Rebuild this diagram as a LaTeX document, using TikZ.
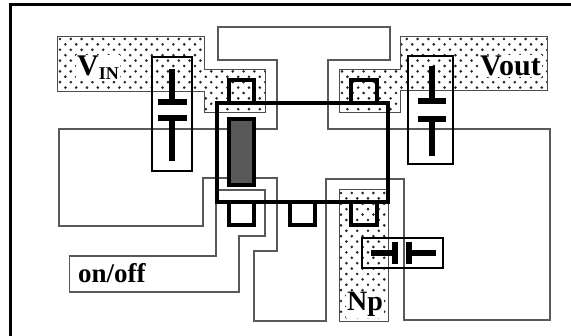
\documentclass[tikz,border=0pt]{standalone}
\usepackage{fontspec}
\setmainfont{Liberation Serif}
\usepackage{tikz}

\newcommand{\dotfield}[4]{%
    \foreach \row in {0,...,#4} {
        \pgfmathsetmacro{\shift}{mod(\row,2)*5.4}
        \foreach \col in {0,...,#3} {
            \fill[black!85] ({#1+\shift+\col*10.8}, {#2+\row*5.4}) circle (1.45);
        }
    }
}

\begin{document}
\begin{tikzpicture}[
    x=1pt, y=-1pt,
    frame/.style={draw=black, line width=3pt},
    track/.style={draw=black!65, line width=1.1pt},
    implant/.style={draw=black!70, line width=1pt},
    active/.style={draw=black, line width=4pt},
    contact/.style={draw=black, line width=3.4pt},
    capbox/.style={draw=black, line width=2.8pt},
    plate/.style={draw=black, line width=5.4pt},
    label/.style={inner sep=1pt, fill=white}
]
\useasboundingbox (0,0) rectangle (571,336);

% outer frame, top and left only
\draw[frame] (10,336) -- (10,5) -- (571,5);

% dotted regions
\begin{scope}
\clip (57,37) -- (204,37) -- (204,70) -- (265,70) -- (265,113) -- (204,113) -- (204,92) -- (57,92) -- cycle;
\dotfield{60}{39}{20}{14}
\end{scope}
\begin{scope}
\clip (400,37) -- (547,37) -- (547,91) -- (400,91) -- (400,113) -- (339,113) -- (339,70) -- (400,70) -- cycle;
\dotfield{342}{39}{20}{14}
\end{scope}
\begin{scope}
\clip (339,190) rectangle (388,322);
\dotfield{341}{193}{5}{24}
\end{scope}
\draw[implant] (57,37) -- (204,37) -- (204,70) -- (265,70) -- (265,113) -- (204,113) -- (204,92) -- (57,92) -- cycle;
\draw[implant] (400,37) -- (547,37) -- (547,91) -- (400,91) -- (400,113) -- (339,113) -- (339,70) -- (400,70) -- cycle;
\draw[implant] (339,190) rectangle (388,322);

% thin tracks
\draw[track] (218,27) -- (390,27) -- (390,60) -- (328,60) -- (328,129) -- (550,129) -- (550,320) -- (404,320) -- (404,179) -- (326,179) -- (326,321) -- (254,321) -- (254,251) -- (277,251) -- (277,178) -- (203,178) -- (203,226) -- (59,226) -- (59,129) -- (277,129) -- (277,60) -- (218,60) -- cycle;
\draw[track] (69.5,256) -- (216,256) -- (216,190) -- (265,190) -- (265,236) -- (239,236) -- (239,292) -- (69.5,292) -- cycle;

% gate
\draw[contact, fill=black!65] (229,119) rectangle (254,185);

% contacts
\draw[contact] (229,103) |- (254,80) -- (254,103);
\draw[contact] (351,103) |- (377,80) -- (377,103);
\draw[contact] (229,202) |- (254,225) -- (254,202);
\draw[contact] (290,202) |- (315,225) -- (315,202);
\draw[contact] (351,202) |- (377,225) -- (377,202);

% active area
\draw[active] (216.5,103) rectangle (388,202);

% capacitors
\draw[capbox] (152,57) rectangle (192,171);
\draw[plate] (172,69) -- (172,102);
\draw[plate] (158,102) -- (187,102);
\draw[plate] (158,118) -- (187,118);
\draw[plate] (172,118) -- (172,161);

\draw[capbox] (408,56) rectangle (453,164);
\draw[plate] (432,66) -- (432,101);
\draw[plate] (418,101) -- (446,101);
\draw[plate] (418,119) -- (446,119);
\draw[plate] (432,119) -- (432,156);

\draw[capbox] (362,238) rectangle (443,268);
\draw[plate] (371,253) -- (395,253);
\draw[plate] (395,242) -- (395,264);
\draw[plate] (409,242) -- (409,264);
\draw[plate] (409,253) -- (436,253);

% labels
\node[label, font=\bfseries\fontsize{30}{30}\selectfont, anchor=base west] (vin) at (76,76) {V\raisebox{-4pt}{\fontsize{18}{18}\selectfont IN}};
\node[label, font=\bfseries\fontsize{30}{30}\selectfont, anchor=base west] (vout) at (479,76) {Vout};
\node[label, font=\bfseries\fontsize{27}{27}\selectfont, anchor=base west, fill=none] (onoff) at (77,283) {on/off};
\node[label, font=\bfseries\fontsize{28}{28}\selectfont, anchor=base west] (np) at (346,311) {Np};

\end{tikzpicture}
\end{document}
